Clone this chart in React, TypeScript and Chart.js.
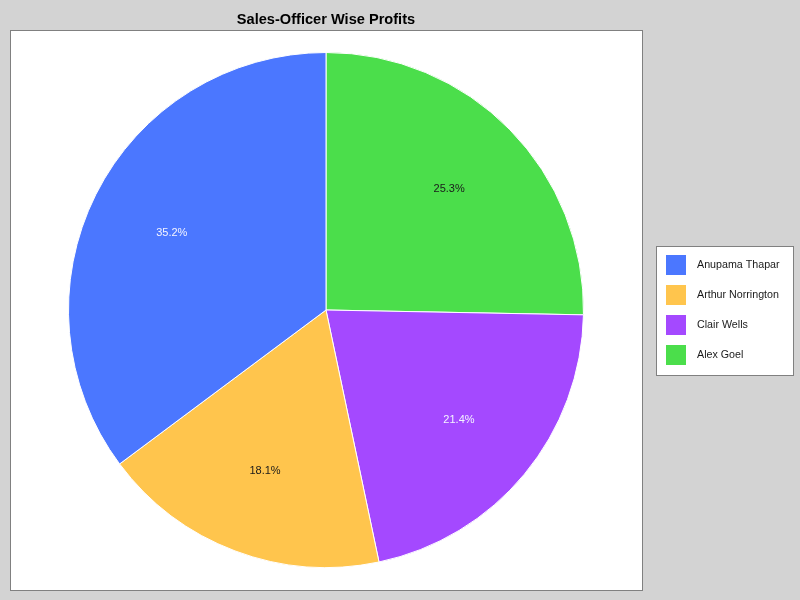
import React, { useEffect, useRef } from "react";
import { Chart, registerables } from "chart.js";

Chart.register(...registerables);

const titleText = "Sales-Officer Wise Profits";
// Legend / logical order (drawn counter-clockwise from 12 o'clock)
const officers = ["Anupama Thapar", "Arthur Norrington", "Clair Wells", "Alex Goel"];
const profitShares = [35.2, 18.1, 21.4, 25.3];
const sliceColors = ["#4B77FF", "#FFC54D", "#A449FF", "#4BDE4B"];
const labelColors = ["#F4F4FF", "#1A1A1A", "#F4F4FF", "#1A1A1A"];

// Chart.js draws clockwise, so feed the slices reversed to get the counter-clockwise layout
const drawLabels = [...officers].reverse();
const drawValues = [...profitShares].reverse();
const drawColors = [...sliceColors].reverse();
const drawLabelColors = [...labelColors].reverse();

const FONT = "'Liberation Sans', Arial, sans-serif";

const framePlugin = {
  id: "frame",
  beforeDraw(chart: any) {
    const ctx = chart.ctx;
    ctx.save();
    ctx.fillStyle = "#D3D3D3";
    ctx.fillRect(0, 0, chart.width, chart.height);
    ctx.fillStyle = "#FFFFFF";
    ctx.fillRect(10, 30, 632, 560);
    ctx.strokeStyle = "#808080";
    ctx.lineWidth = 1;
    ctx.strokeRect(10.5, 30.5, 632, 560);
    // title
    ctx.fillStyle = "#000000";
    ctx.font = `bold 14.6px ${FONT}`;
    ctx.textAlign = "center";
    ctx.textBaseline = "middle";
    ctx.fillText(titleText, 326, 20);
    ctx.restore();
  },
  afterDatasetsDraw(chart: any) {
    const ctx = chart.ctx;
    const meta = chart.getDatasetMeta(0);
    const total = drawValues.reduce((a, b) => a + b, 0);
    ctx.save();
    ctx.font = `11px ${FONT}`;
    ctx.textAlign = "center";
    ctx.textBaseline = "middle";
    meta.data.forEach((arc: any, i: number) => {
      const p = arc.getProps(["x", "y", "startAngle", "endAngle", "outerRadius"], true);
      const mid = (p.startAngle + p.endAngle) / 2;
      const r = p.outerRadius * 0.67;
      ctx.fillStyle = drawLabelColors[i];
      const pct = ((drawValues[i] / total) * 100).toFixed(1) + "%";
      ctx.fillText(pct, p.x + Math.cos(mid) * r, p.y + Math.sin(mid) * r);
    });
    // legend
    ctx.fillStyle = "#FFFFFF";
    ctx.fillRect(656, 246, 137, 129);
    ctx.strokeStyle = "#808080";
    ctx.lineWidth = 1;
    ctx.strokeRect(656.5, 246.5, 137, 129);
    ctx.textAlign = "left";
    ctx.font = `10.7px ${FONT}`;
    officers.forEach((name, i) => {
      const y = 255 + i * 30;
      ctx.fillStyle = sliceColors[i];
      ctx.fillRect(666, y, 20, 20);
      ctx.fillStyle = "#1A1A1A";
      ctx.fillText(name, 697, y + 10);
    });
    ctx.restore();
  },
};

export default function App() {
  const ref = useRef<HTMLCanvasElement>(null);
  useEffect(() => {
    document.body.style.margin = "0";
    const chart = new Chart(ref.current as HTMLCanvasElement, {
      type: "pie",
      data: {
        labels: drawLabels,
        datasets: [
          {
            data: drawValues,
            backgroundColor: drawColors,
            borderColor: "#FFFFFF",
            borderWidth: 1,
          },
        ],
      },
      options: {
        responsive: false,
        animation: false,
        devicePixelRatio: 1,
        layout: { padding: { left: 68, right: 216, top: 52, bottom: 32 } },
        plugins: {
          legend: { display: false },
          title: { display: false },
          tooltip: { enabled: false },
        },
      },
      plugins: [framePlugin],
    });
    return () => chart.destroy();
  }, []);
  return (
    <div style={{ position: "absolute", left: 0, top: 0, width: 800, height: 600 }}>
      <canvas ref={ref} width={800} height={600} style={{ display: "block" }} />
    </div>
  );
}
